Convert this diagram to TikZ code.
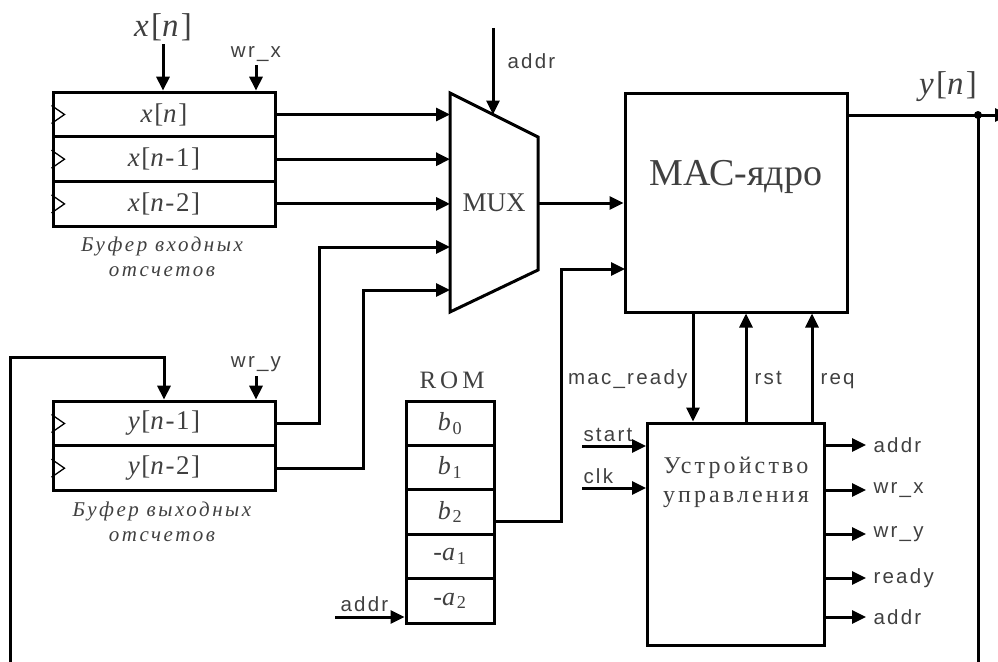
\documentclass[tikz,border=0pt]{standalone}
\usepackage{fontspec}
\setmainfont{Liberation Serif}
\newfontfamily\lsans[LetterSpace=11]{Liberation Sans}
\newfontfamily\serspc[LetterSpace=6]{Liberation Serif}
\newfontfamily\bigfont[LetterSpace=7]{Liberation Serif}
\newfontfamily\romfont[LetterSpace=16]{Liberation Serif}
\newfontfamily\capfont[LetterSpace=12]{Liberation Serif}
\newfontfamily\ctlfont[LetterSpace=13]{Liberation Serif}
\usetikzlibrary{arrows.meta}
\definecolor{txt}{HTML}{404040}
\begin{document}
\begin{tikzpicture}[x=1pt,y=-1pt,line width=3pt,line join=miter,
  arr/.style={-{Triangle[length=14pt,width=13pt]}},
  blk/.style={draw,line width=3pt,inner sep=0pt},
  cellbox/.style={blk,minimum width=222pt,minimum height=44.7pt,font=\serspc\fontsize{27}{30}\selectfont,text=txt},
  romcell/.style={blk,minimum width=88pt,minimum height=44.4pt,font=\bigfont\fontsize{26}{28}\selectfont,text=txt},
  sanslab/.style={font=\lsans\fontsize{20.5}{23}\selectfont,text=txt,inner sep=0pt},
  bigser/.style={font=\bigfont\fontsize{33}{36}\selectfont,text=txt,inner sep=0pt},
  captxt/.style={font=\capfont\itshape\fontsize{21}{25}\selectfont,text=txt,align=center,inner sep=0pt},
  clktri/.style={line width=1.3pt}]
\useasboundingbox (0,0) rectangle (998,661);
\clip (0,0) rectangle (998,661);

% input buffer
\node[cellbox] (xr0) at (164,114.5) {\textit{x}[\textit{n}]};
\node[cellbox] (xr1) at (164,159.2) {\textit{x}[\textit{n}-1]};
\node[cellbox] (xr2) at (164,203.9) {\textit{x}[\textit{n}-2]};
\foreach \r in {xr0,xr1,xr2}{
  \draw[clktri] ([yshift=9pt]\r.west) -- ([xshift=13pt]\r.west) -- ([yshift=-9pt]\r.west);}
\node[captxt] (capx) at (162,257) {Буфер входных\\отсчетов};

% output buffer
\node[cellbox] (yr1) at (164,423.5) {\textit{y}[\textit{n}-1]};
\node[cellbox] (yr2) at (164,468.2) {\textit{y}[\textit{n}-2]};
\foreach \r in {yr1,yr2}{
  \draw[clktri] ([yshift=9pt]\r.west) -- ([xshift=13pt]\r.west) -- ([yshift=-9pt]\r.west);}
\node[captxt] (capy) at (162,522) {Буфер выходных\\отсчетов};

% x[n] input and wr_x
\node[bigser] (xin) at (163,27) {\textit{x}[\textit{n}]};
\draw[arr] ([yshift=-2pt]xin.south) -- (xin.south |- xr0.north);
\node[sanslab,anchor=base] (wrx) at (256,58) {wr\_x};
\draw[arr] ([yshift=-7pt]wrx.base) -- (wrx.base |- xr0.north);
\node[sanslab,anchor=base] (wry) at (256,367) {wr\_y};
\draw[arr] ([yshift=-9pt]wry.base) -- (wry.base |- yr1.north);

% MUX
\coordinate (mA) at (450,93);
\coordinate (mB) at (538,137);
\coordinate (mC) at (538,270);
\coordinate (mD) at (450,312);
\draw (mA) -- (mB) -- (mC) -- (mD) -- cycle;
\node[font=\fontsize{27}{30}\selectfont,text=txt] (mux) at (494,203) {MUX};
\coordinate (muxin1) at (450,114.5);
\coordinate (muxin2) at (450,159.2);
\coordinate (muxin3) at (450,203.9);
\coordinate (muxin4) at (450,247);
\coordinate (muxin5) at (450,290);
\coordinate (muxout) at (538,203);
\coordinate (muxaddr) at (493,114.5);
\coordinate (maddrtop) at (493,28);
\node[sanslab,anchor=base west] (maddr) at (506,68) {addr};
\draw[arr] (maddrtop) -- (muxaddr);

\draw[arr] (xr0.east) -- (muxin1);
\draw[arr] (xr1.east) -- (muxin2);
\draw[arr] (xr2.east) -- (muxin3);
\draw[arr] (yr1.east) -- ++(43,0) |- (muxin4);
\draw[arr] (yr2.east) -- ++(87,0) |- (muxin5);

% MAC
\node[blk,minimum width=222pt,minimum height=219pt] (mac) at (736,202.5) {};
\node[font=\fontsize{38}{40}\selectfont,text=txt] (mactxt) at (736,177) {МАС-ядро};
\draw[arr] (muxout) -- (muxout -| mac.west);

% ROM
\node[font=\romfont\fontsize{25}{30}\selectfont,text=txt] (romlbl) at (452,380) {ROM};
\node[romcell] (rom0) at (450,423.2) {\textit{b}\textsubscript{0}};
\node[romcell] (rom1) at (450,467.6) {\textit{b}\textsubscript{1}};
\node[romcell] (rom2) at (450,512.0) {\textit{b}\textsubscript{2}};
\node[romcell] (rom3) at (450,556.4) {-\textit{a}\textsubscript{1}};
\node[romcell] (rom4) at (450,600.8) {-\textit{a}\textsubscript{2}};
\coordinate (macin2) at (625,269);
\draw[arr] ([yshift=-9pt]rom2.east) -- ++(66,0) |- (macin2);
\coordinate (ra) at (335,617);
\draw[arr] (ra) -- (ra -| rom4.west);
\node[sanslab,anchor=base west] (ralbl) at (339,611) {addr};

% control unit
\node[blk,minimum width=177pt,minimum height=222pt] (ctrl) at (736,534) {};
\node[font=\ctlfont\fontsize{24}{29}\selectfont,text=txt,align=center] (ctrltxt) at (736,482) {Устройство\\управления};
\draw[arr] ([xshift=-43pt]mac.south) coordinate (mr) -- (mr |- ctrl.north);
\draw[arr] ([xshift=10pt]ctrl.north) coordinate (rs) -- (rs |- mac.south);
\draw[arr] ([xshift=76pt]ctrl.north) coordinate (rq) -- (rq |- mac.south);
\node[sanslab,anchor=base east] (mrl) at (689,384) {mac\_ready};
\node[sanslab,anchor=base west] (rsl) at (753,384) {rst};
\node[sanslab,anchor=base west] (rql) at (819,384) {req};

\coordinate (st) at (582,446);
\draw[arr] (st) -- (st -| ctrl.west);
\node[sanslab,anchor=base west] (stl) at (582,441) {start};
\coordinate (ck) at (582,488);
\draw[arr] (ck) -- (ck -| ctrl.west);
\node[sanslab,anchor=base west] (ckl) at (582,483) {clk};

\coordinate (o1) at (866,445);
\coordinate (o2) at (866,490);
\coordinate (o3) at (866,534);
\coordinate (o4) at (866,578);
\coordinate (o5) at (866,617);
\draw[arr] (ctrl.east |- o1) -- (o1) node[sanslab,anchor=west,xshift=6pt] (ol1) {addr};
\draw[arr] (ctrl.east |- o2) -- (o2) node[sanslab,anchor=west,xshift=6pt] (ol2) {wr\_x};
\draw[arr] (ctrl.east |- o3) -- (o3) node[sanslab,anchor=west,xshift=6pt] (ol3) {wr\_y};
\draw[arr] (ctrl.east |- o4) -- (o4) node[sanslab,anchor=west,xshift=6pt] (ol4) {ready};
\draw[arr] (ctrl.east |- o5) -- (o5) node[sanslab,anchor=west,xshift=6pt] (ol5) {addr};

% output and feedback
\coordinate (junc) at (978,115);
\coordinate (yout) at (1009,115);
\coordinate (fbR) at (978,670);
\coordinate (fbL) at (10,670);
\draw[arr] ([yshift=87.5pt]mac.east) -- (yout);
\fill (junc) circle (4pt);
\draw (junc) -- (fbR);
\node[bigser] (ynl) at (948,87) {\textit{y}[\textit{n}]};
\draw[arr] (fbL) -- ++(0,-313) -| (yr1.north);
\end{tikzpicture}
\end{document}
